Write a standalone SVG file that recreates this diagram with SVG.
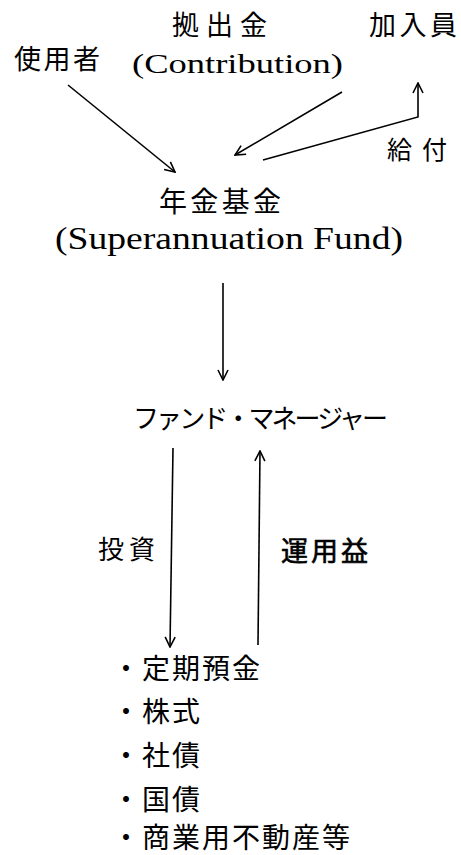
<svg xmlns="http://www.w3.org/2000/svg" width="461" height="855" viewBox="0 0 461 855">
<defs>
<marker id="ah" viewBox="0 0 12 12" refX="11" refY="6" markerWidth="12" markerHeight="12" markerUnits="userSpaceOnUse" orient="auto">
<path d="M1,1 L11,6 L1,11" fill="none" stroke="#000" stroke-width="1.6"/>
</marker>
</defs>
<style>
.jp{font-family:"Noto Sans CJK JP","Noto Sans CJK SC",sans-serif;fill:#000}
.en{font-family:"Liberation Serif","Noto Sans CJK JP",serif;fill:#000}
.ln{fill:none;stroke:#000;stroke-width:1.6;marker-end:url(#ah)}
.li{font-size:28px;letter-spacing:2px}
</style>
<rect width="461" height="855" fill="#fff"/>
<g id="kyoshutsukin"><text class="jp" x="172" y="35" font-size="27" textLength="95">拠出金</text></g>
<g id="kanyuin"><text class="jp" x="369" y="35" font-size="27" textLength="88">加入員</text></g>
<g id="shiyosha"><text class="jp" x="14" y="69" font-size="27" textLength="86">使用者</text></g>
<g id="contribution"><text class="en" x="132" y="73" font-size="28" textLength="211" lengthAdjust="spacingAndGlyphs">(Contribution)</text></g>
<g id="kyufu"><text class="jp" x="387" y="159" font-size="25" textLength="60">給付</text></g>
<g id="nenkin"><text class="jp" x="159" y="212" font-size="28" textLength="122">年金基金</text>
<text class="en" x="55" y="249" font-size="32" textLength="348" lengthAdjust="spacingAndGlyphs">(Superannuation Fund)</text></g>
<g id="manager"><text class="jp" x="133" y="428" font-size="26" textLength="255">ファンド・マネージャー</text></g>
<g id="toushi"><text class="jp" x="98" y="559" font-size="26" textLength="57">投資</text></g>
<g id="uneki"><text class="jp" x="281" y="561" font-size="27" stroke="#000" stroke-width="0.6" textLength="87">運用益</text></g>
<g id="assets">
<text class="jp li" x="112" y="679">・定期預金</text>
<text class="jp li" x="112" y="722">・株式</text>
<text class="jp li" x="112" y="766">・社債</text>
<text class="jp li" x="112" y="810">・国債</text>
<text class="jp li" x="112" y="848">・商業用不動産等</text>
</g>
<g id="connectors">
<path class="ln" d="M68,85 L175,172"/>
<path class="ln" d="M342,92 L235,155"/>
<path class="ln" d="M263,160 L418,117 L418,83"/>
<path class="ln" d="M223,283 L223,380"/>
<path class="ln" d="M173,448 L170,647"/>
<path class="ln" d="M258,645 L260,451"/>
</g>
</svg>
